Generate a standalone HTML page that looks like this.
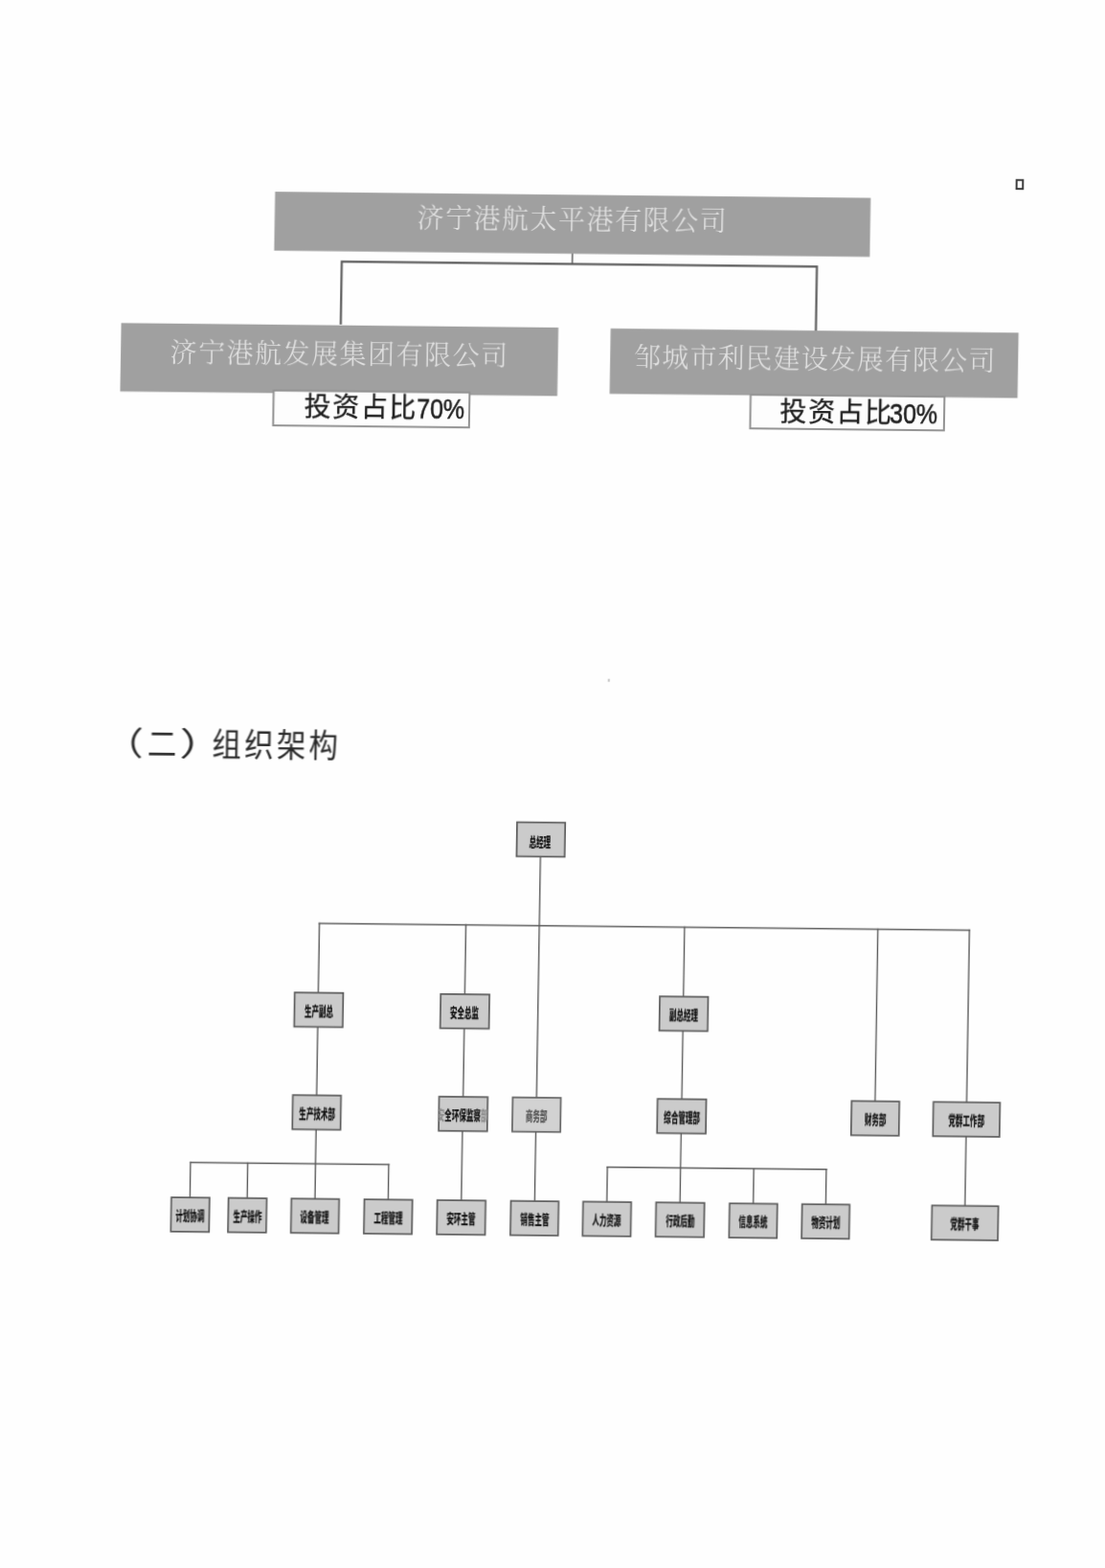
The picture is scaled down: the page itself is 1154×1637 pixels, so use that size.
<!DOCTYPE html>
<html lang="zh-CN">
<head>
<meta charset="utf-8">
<title>组织架构</title>
<style>
html,body{margin:0;padding:0;background:#fefefe;}
body{width:1154px;height:1637px;position:relative;overflow:hidden;}
#page{position:absolute;left:0;top:0;width:1154px;height:1637px;transform-origin:0 0;transform:matrix(1,0.010473,-0.01623,1,0,0);filter:grayscale(1) blur(0.4px);}
#page div{position:absolute;box-sizing:border-box;}
#page svg{position:absolute;left:0;top:0;}
.g{color:#e2e2e2;font-family:"Liberation Serif","Noto Serif CJK SC",serif;font-weight:300;font-size:28px;line-height:30px;letter-spacing:1.4px;white-space:nowrap;}
.lt,.ld{color:#1e1e1e;font-family:"Liberation Sans","Noto Sans CJK SC",sans-serif;line-height:32px;white-space:nowrap;}
.lt{font-size:28px;letter-spacing:1.6px;font-weight:400;-webkit-text-stroke:0.3px #1e1e1e;}
.ld{font-size:29px;transform-origin:0 50%;transform:scaleX(0.86);-webkit-text-stroke:0.55px #1e1e1e;}
.b{overflow:hidden;color:#111;font-family:"Liberation Sans","Noto Sans CJK SC",sans-serif;font-weight:900;font-size:13.5px;line-height:14px;white-space:nowrap;height:37.4px;}
.b span{position:absolute;left:50%;top:14px;width:200px;margin-left:-100px;text-align:center;transform:scaleX(0.56);}
.b.faint{color:#555;}
.b i{font-style:normal;color:#8a8a8a;}
.h{color:#282828;font-family:"Liberation Sans","Noto Sans CJK SC",sans-serif;font-weight:400;font-size:34px;line-height:36px;letter-spacing:3.65px;white-space:nowrap;transform-origin:0 0;transform:scaleX(0.895);}
.h span{display:inline-block;}
.h .p1{transform-origin:100% 50%;transform:scaleX(1.34);}
.h .p2{transform-origin:0 50%;transform:scaleX(1.5);}
</style>
</head>
<body>
<div id="page">
<svg width="1154" height="1637" viewBox="0 0 1154 1637">
<g stroke="#5c5c5c" stroke-width="2.2" fill="none">
<path d="M602 258 V269.3" stroke-width="1.5"/>
<path d="M361.3 335 V269.3 H857.5 V338"/>
</g>
<g fill="#a0a0a0">
<rect x="290.5" y="197.1" width="622" height="61.5"/>
<rect x="132.1" y="335.8" width="456.5" height="71.5"/>
<rect x="643.2" y="336.2" width="426" height="68.2"/>
</g>
<rect x="292.4" y="404.6" width="204.6" height="36.5" fill="#fdfdfd" stroke="#929292" stroke-width="2"/>
<rect x="790.5" y="403.8" width="202.4" height="35.2" fill="#fdfdfd" stroke="#929292" stroke-width="2"/>
<rect x="1064.6" y="176.8" width="6.6" height="9.2" fill="none" stroke="#3c3c3c" stroke-width="2"/>
<rect x="646.5" y="702" width="1.6" height="3" fill="#b5b5b5"/>
<g stroke="#5a5a5a" stroke-width="1.4" fill="none" stroke-linecap="square">
<path d="M349.1 960.3 H1028.2"/>
<path d="M218.5 1211.3 H425.7"/>
<path d="M653.9 1211.6 H882.8"/>
<path d="M578.8 888.1 V1140.0"/>
<path d="M578.6 1175.4 V1248.1"/>
<path d="M349.2 960.3 V1032.9"/>
<path d="M349.2 1068.3 V1140.0"/>
<path d="M349.2 1175.4 V1248.1"/>
<path d="M502.2 960.3 V1032.9"/>
<path d="M502.2 1068.3 V1140.0"/>
<path d="M502.0 1175.4 V1248.1"/>
<path d="M730.5 960.3 V1032.9"/>
<path d="M730.5 1068.3 V1140.0"/>
<path d="M730.4 1175.4 V1248.1"/>
<path d="M932.4 960.3 V1140.0"/>
<path d="M1028.0 960.3 V1140.0"/>
<path d="M1028.0 1175.4 V1248.1"/>
<path d="M218.6 1211.3 V1248.1"/>
<path d="M278.4 1211.3 V1248.1"/>
<path d="M425.6 1211.3 V1248.1"/>
<path d="M654.0 1211.6 V1248.1"/>
<path d="M806.9 1211.6 V1248.1"/>
<path d="M882.6 1211.6 V1248.1"/>
</g>
<g fill="#cbcbcb" stroke="#5c5c5c" stroke-width="1.7">
<rect x="553.85" y="852.55" width="50.30" height="35.70"/>
<rect x="324.55" y="1032.75" width="50.70" height="35.70"/>
<rect x="477.05" y="1032.75" width="50.90" height="35.70"/>
<rect x="705.85" y="1032.85" width="50.50" height="35.70"/>
<rect x="324.35" y="1139.85" width="50.30" height="35.70"/>
<rect x="477.15" y="1139.85" width="50.70" height="35.70"/>
<rect x="553.95" y="1139.85" width="50.30" height="35.70" fill="#d2d2d2" stroke="#646464"/>
<rect x="705.25" y="1139.85" width="50.90" height="35.70"/>
<rect x="907.85" y="1139.95" width="49.90" height="35.70"/>
<rect x="993.35" y="1140.05" width="69.50" height="35.70"/>
<rect x="199.25" y="1247.95" width="39.90" height="35.70"/>
<rect x="258.85" y="1247.95" width="39.90" height="35.70"/>
<rect x="324.55" y="1247.95" width="49.90" height="35.70"/>
<rect x="400.75" y="1247.95" width="50.20" height="35.70"/>
<rect x="476.95" y="1247.95" width="50.50" height="35.70"/>
<rect x="553.75" y="1247.95" width="49.90" height="35.70"/>
<rect x="629.25" y="1247.95" width="50.20" height="35.70"/>
<rect x="705.45" y="1247.95" width="50.50" height="35.70"/>
<rect x="782.25" y="1248.15" width="49.90" height="35.70"/>
<rect x="857.95" y="1248.15" width="49.60" height="35.70"/>
<rect x="993.55" y="1248.15" width="69.30" height="35.70"/>
</g>
</svg>
<div class="g" style="left:439.2px;top:208.6px;letter-spacing:1.5px">济宁港航太平港有限公司</div>
<div class="g" style="left:183.6px;top:351.8px;letter-spacing:1.5px">济宁港航发展集团有限公司</div>
<div class="g" style="left:668.2px;top:351.9px;letter-spacing:1.08px">邹城市利民建设发展有限公司</div>
<div class="lt" style="left:324.5px;top:406px">投资占比</div><div class="ld" style="left:441.6px;top:406px">70%</div>
<div class="lt" style="left:821.3px;top:405.7px">投资占比</div><div class="ld" style="left:936.2px;top:405.7px">30%</div>
<div class="h" style="left:133px;top:757.3px"><span class="p1">（</span>二<span class="p2">）</span>组织架构</div>
<div class="b" style="left:553.0px;top:851.7px;width:52.0px"><span style="top:15.2px;margin-left:-100.8px">总经理</span></div>
<div class="b" style="left:323.7px;top:1031.9px;width:52.4px"><span>生产副总</span></div>
<div class="b" style="left:476.2px;top:1031.9px;width:52.6px"><span>安全总监</span></div>
<div class="b" style="left:705.0px;top:1032.0px;width:52.2px"><span>副总经理</span></div>
<div class="b" style="left:323.5px;top:1139.0px;width:52.0px"><span>生产技术部</span></div>
<div class="b" style="left:476.3px;top:1139.0px;width:52.4px"><span><i>安</i>全环保监察<i>部</i></span></div>
<div class="b faint" style="left:553.1px;top:1139.0px;width:52.0px"><span>商务部</span></div>
<div class="b" style="left:704.4px;top:1139.0px;width:52.6px"><span>综合管理部</span></div>
<div class="b" style="left:907.0px;top:1139.1px;width:51.6px"><span>财务部</span></div>
<div class="b" style="left:992.5px;top:1139.2px;width:71.2px"><span>党群工作部</span></div>
<div class="b" style="left:198.4px;top:1247.1px;width:41.6px"><span>计划协调</span></div>
<div class="b" style="left:258.0px;top:1247.1px;width:41.6px"><span>生产操作</span></div>
<div class="b" style="left:323.7px;top:1247.1px;width:51.6px"><span>设备管理</span></div>
<div class="b" style="left:399.9px;top:1247.1px;width:51.9px"><span>工程管理</span></div>
<div class="b" style="left:476.1px;top:1247.1px;width:52.2px"><span>安环主管</span></div>
<div class="b" style="left:552.9px;top:1247.1px;width:51.6px"><span>销售主管</span></div>
<div class="b" style="left:628.4px;top:1247.1px;width:51.9px"><span>人力资源</span></div>
<div class="b" style="left:704.6px;top:1247.1px;width:52.2px"><span>行政后勤</span></div>
<div class="b" style="left:781.4px;top:1247.3px;width:51.6px"><span>信息系统</span></div>
<div class="b" style="left:857.1px;top:1247.3px;width:51.3px"><span>物资计划</span></div>
<div class="b" style="left:992.7px;top:1247.3px;width:71.0px"><span>党群干事</span></div>
</div>
</body>
</html>
